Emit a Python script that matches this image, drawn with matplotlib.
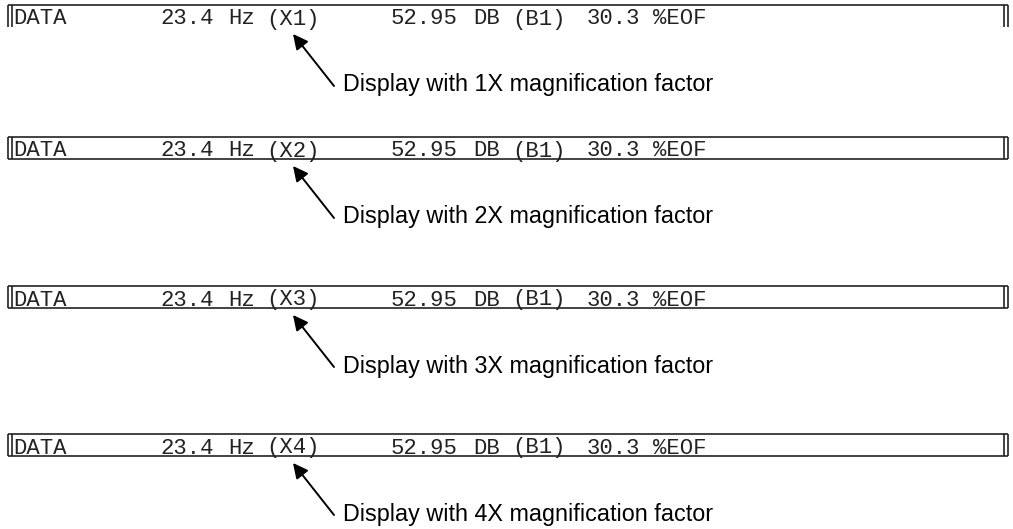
import matplotlib.pyplot as plt
from matplotlib.patches import FancyArrowPatch

# Data shown in each display line
magnifications = [1, 2, 3, 4]
frequency_value = "23.4"
frequency_unit = "Hz"
level_value = "52.95"
level_unit = "DB"
level_band = "(B1)"
eof_value = "30.3"
eof_unit = "%EOF"

# Layout (pixels)
bar_tops = [5, 137, 286, 434]
bar_height = 22
bar_left, bar_right = 8, 1008
token_x = [13, 160, 228, 266, 391, 473, 512, 587, 653]

fig = plt.figure(figsize=(10.13, 5.29), dpi=100)
ax = fig.add_axes([0, 0, 1, 1])
ax.set_xlim(0, 1013)
ax.set_ylim(529, 0)
ax.axis("off")

mono = "Liberation Mono"
text_color = "#222222"
line_kw = dict(color="#222222", lw=1.2, solid_capstyle="butt")

for i, (mag, top) in enumerate(zip(magnifications, bar_tops)):
    bottom = top + bar_height
    ax.plot([bar_left, bar_right], [top, top], **line_kw)
    if i > 0:
        ax.plot([bar_left, bar_right], [bottom, bottom], **line_kw)
    # double vertical bars on both ends
    for x in (bar_left, bar_left + 4, bar_right - 4, bar_right):
        ax.plot([x, x], [top, bottom], **line_kw)

    tokens = ["DATA", frequency_value, frequency_unit, f"(X{mag})",
              level_value, level_unit, level_band, eof_value, eof_unit]
    for x, tok in zip(token_x, tokens):
        ax.text(x, top + 14, tok, family=mono, fontsize=16, va="center",
                color=text_color)

    # arrow pointing at the magnification label
    arrow = FancyArrowPatch((334, top + 81), (293, top + 29),
                            arrowstyle="-|>,head_length=9,head_width=4.5",
                            color="black", lw=1.4, shrinkA=0, shrinkB=0)
    ax.add_patch(arrow)
    ax.text(343, top + 80, f"Display with {mag}X magnification factor",
            family="Liberation Sans", fontsize=16.8, va="center", color="black")

fig.savefig("out.png", dpi=100)
